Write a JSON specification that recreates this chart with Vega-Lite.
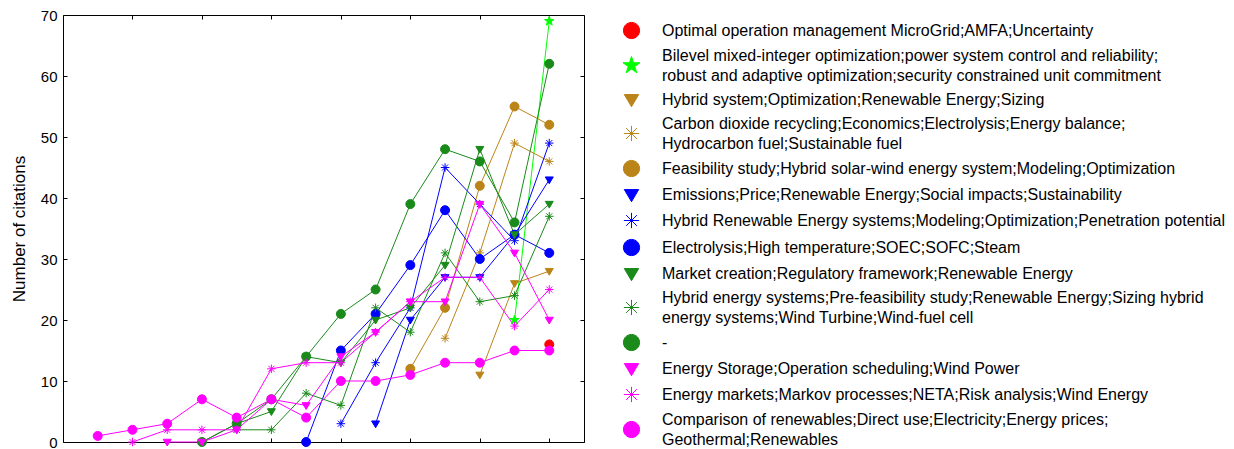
{
  "$schema": "https://vega.github.io/schema/vega-lite/v6.json",
  "autosize": {"type": "none"},
  "padding": {"left": 63, "top": 15, "right": 650, "bottom": 7},
  "width": 521,
  "height": 427,
  "background": "white",
  "config": {
    "view": {"stroke": "black", "strokeWidth": 1},
    "font": "Liberation Sans",
    "axis": {"grid": false, "domainColor": "black", "tickColor": "black", "labelColor": "black", "titleColor": "black", "labelFont": "Liberation Sans", "titleFont": "Liberation Sans"}
  },
  "data": {"values": [
    {"s": "Optimal operation management MicroGrid;AMFA;Uncertainty", "x": 14, "y": 16},
    {"s": "Bilevel mixed-integer optimization;power system control and reliability;|robust and adaptive optimization;security constrained unit commitment", "x": 13, "y": 20},
    {"s": "Bilevel mixed-integer optimization;power system control and reliability;|robust and adaptive optimization;security constrained unit commitment", "x": 14, "y": 69},
    {"s": "Hybrid system;Optimization;Renewable Energy;Sizing", "x": 12, "y": 11},
    {"s": "Hybrid system;Optimization;Renewable Energy;Sizing", "x": 13, "y": 26},
    {"s": "Hybrid system;Optimization;Renewable Energy;Sizing", "x": 14, "y": 28},
    {"s": "Carbon dioxide recycling;Economics;Electrolysis;Energy balance;|Hydrocarbon fuel;Sustainable fuel", "x": 11, "y": 17},
    {"s": "Carbon dioxide recycling;Economics;Electrolysis;Energy balance;|Hydrocarbon fuel;Sustainable fuel", "x": 12, "y": 31},
    {"s": "Carbon dioxide recycling;Economics;Electrolysis;Energy balance;|Hydrocarbon fuel;Sustainable fuel", "x": 13, "y": 49},
    {"s": "Carbon dioxide recycling;Economics;Electrolysis;Energy balance;|Hydrocarbon fuel;Sustainable fuel", "x": 14, "y": 46},
    {"s": "Feasibility study;Hybrid solar-wind energy system;Modeling;Optimization", "x": 10, "y": 12},
    {"s": "Feasibility study;Hybrid solar-wind energy system;Modeling;Optimization", "x": 11, "y": 22},
    {"s": "Feasibility study;Hybrid solar-wind energy system;Modeling;Optimization", "x": 12, "y": 42},
    {"s": "Feasibility study;Hybrid solar-wind energy system;Modeling;Optimization", "x": 13, "y": 55},
    {"s": "Feasibility study;Hybrid solar-wind energy system;Modeling;Optimization", "x": 14, "y": 52},
    {"s": "Emissions;Price;Renewable Energy;Social impacts;Sustainability", "x": 9, "y": 3},
    {"s": "Emissions;Price;Renewable Energy;Social impacts;Sustainability", "x": 10, "y": 20},
    {"s": "Emissions;Price;Renewable Energy;Social impacts;Sustainability", "x": 11, "y": 27},
    {"s": "Emissions;Price;Renewable Energy;Social impacts;Sustainability", "x": 12, "y": 27},
    {"s": "Emissions;Price;Renewable Energy;Social impacts;Sustainability", "x": 13, "y": 34},
    {"s": "Emissions;Price;Renewable Energy;Social impacts;Sustainability", "x": 14, "y": 43},
    {"s": "Hybrid Renewable Energy systems;Modeling;Optimization;Penetration potential", "x": 8, "y": 3},
    {"s": "Hybrid Renewable Energy systems;Modeling;Optimization;Penetration potential", "x": 9, "y": 13},
    {"s": "Hybrid Renewable Energy systems;Modeling;Optimization;Penetration potential", "x": 10, "y": 22},
    {"s": "Hybrid Renewable Energy systems;Modeling;Optimization;Penetration potential", "x": 11, "y": 45},
    {"s": "Hybrid Renewable Energy systems;Modeling;Optimization;Penetration potential", "x": 12, "y": 39},
    {"s": "Hybrid Renewable Energy systems;Modeling;Optimization;Penetration potential", "x": 13, "y": 33},
    {"s": "Hybrid Renewable Energy systems;Modeling;Optimization;Penetration potential", "x": 14, "y": 49},
    {"s": "Electrolysis;High temperature;SOEC;SOFC;Steam", "x": 7, "y": 0},
    {"s": "Electrolysis;High temperature;SOEC;SOFC;Steam", "x": 8, "y": 15},
    {"s": "Electrolysis;High temperature;SOEC;SOFC;Steam", "x": 9, "y": 21},
    {"s": "Electrolysis;High temperature;SOEC;SOFC;Steam", "x": 10, "y": 29},
    {"s": "Electrolysis;High temperature;SOEC;SOFC;Steam", "x": 11, "y": 38},
    {"s": "Electrolysis;High temperature;SOEC;SOFC;Steam", "x": 12, "y": 30},
    {"s": "Electrolysis;High temperature;SOEC;SOFC;Steam", "x": 13, "y": 34},
    {"s": "Electrolysis;High temperature;SOEC;SOFC;Steam", "x": 14, "y": 31},
    {"s": "Market creation;Regulatory framework;Renewable Energy", "x": 4, "y": 0},
    {"s": "Market creation;Regulatory framework;Renewable Energy", "x": 5, "y": 3},
    {"s": "Market creation;Regulatory framework;Renewable Energy", "x": 6, "y": 5},
    {"s": "Market creation;Regulatory framework;Renewable Energy", "x": 7, "y": 14},
    {"s": "Market creation;Regulatory framework;Renewable Energy", "x": 8, "y": 13},
    {"s": "Market creation;Regulatory framework;Renewable Energy", "x": 9, "y": 20},
    {"s": "Market creation;Regulatory framework;Renewable Energy", "x": 10, "y": 22},
    {"s": "Market creation;Regulatory framework;Renewable Energy", "x": 11, "y": 29},
    {"s": "Market creation;Regulatory framework;Renewable Energy", "x": 12, "y": 48},
    {"s": "Market creation;Regulatory framework;Renewable Energy", "x": 13, "y": 34},
    {"s": "Market creation;Regulatory framework;Renewable Energy", "x": 14, "y": 39},
    {"s": "Hybrid energy systems;Pre-feasibility study;Renewable Energy;Sizing hybrid|energy systems;Wind Turbine;Wind-fuel cell", "x": 5, "y": 2},
    {"s": "Hybrid energy systems;Pre-feasibility study;Renewable Energy;Sizing hybrid|energy systems;Wind Turbine;Wind-fuel cell", "x": 6, "y": 2},
    {"s": "Hybrid energy systems;Pre-feasibility study;Renewable Energy;Sizing hybrid|energy systems;Wind Turbine;Wind-fuel cell", "x": 7, "y": 8},
    {"s": "Hybrid energy systems;Pre-feasibility study;Renewable Energy;Sizing hybrid|energy systems;Wind Turbine;Wind-fuel cell", "x": 8, "y": 6},
    {"s": "Hybrid energy systems;Pre-feasibility study;Renewable Energy;Sizing hybrid|energy systems;Wind Turbine;Wind-fuel cell", "x": 9, "y": 22},
    {"s": "Hybrid energy systems;Pre-feasibility study;Renewable Energy;Sizing hybrid|energy systems;Wind Turbine;Wind-fuel cell", "x": 10, "y": 18},
    {"s": "Hybrid energy systems;Pre-feasibility study;Renewable Energy;Sizing hybrid|energy systems;Wind Turbine;Wind-fuel cell", "x": 11, "y": 31},
    {"s": "Hybrid energy systems;Pre-feasibility study;Renewable Energy;Sizing hybrid|energy systems;Wind Turbine;Wind-fuel cell", "x": 12, "y": 23},
    {"s": "Hybrid energy systems;Pre-feasibility study;Renewable Energy;Sizing hybrid|energy systems;Wind Turbine;Wind-fuel cell", "x": 13, "y": 24},
    {"s": "Hybrid energy systems;Pre-feasibility study;Renewable Energy;Sizing hybrid|energy systems;Wind Turbine;Wind-fuel cell", "x": 14, "y": 37},
    {"s": "-", "x": 4, "y": 0},
    {"s": "-", "x": 5, "y": 3},
    {"s": "-", "x": 6, "y": 7},
    {"s": "-", "x": 7, "y": 14},
    {"s": "-", "x": 8, "y": 21},
    {"s": "-", "x": 9, "y": 25},
    {"s": "-", "x": 10, "y": 39},
    {"s": "-", "x": 11, "y": 48},
    {"s": "-", "x": 12, "y": 46},
    {"s": "-", "x": 13, "y": 36},
    {"s": "-", "x": 14, "y": 62},
    {"s": "Energy Storage;Operation scheduling;Wind Power", "x": 3, "y": 0},
    {"s": "Energy Storage;Operation scheduling;Wind Power", "x": 4, "y": 0},
    {"s": "Energy Storage;Operation scheduling;Wind Power", "x": 5, "y": 2},
    {"s": "Energy Storage;Operation scheduling;Wind Power", "x": 6, "y": 7},
    {"s": "Energy Storage;Operation scheduling;Wind Power", "x": 7, "y": 6},
    {"s": "Energy Storage;Operation scheduling;Wind Power", "x": 8, "y": 14},
    {"s": "Energy Storage;Operation scheduling;Wind Power", "x": 9, "y": 18},
    {"s": "Energy Storage;Operation scheduling;Wind Power", "x": 10, "y": 23},
    {"s": "Energy Storage;Operation scheduling;Wind Power", "x": 11, "y": 23},
    {"s": "Energy Storage;Operation scheduling;Wind Power", "x": 12, "y": 39},
    {"s": "Energy Storage;Operation scheduling;Wind Power", "x": 13, "y": 31},
    {"s": "Energy Storage;Operation scheduling;Wind Power", "x": 14, "y": 20},
    {"s": "Energy markets;Markov processes;NETA;Risk analysis;Wind Energy", "x": 2, "y": 0},
    {"s": "Energy markets;Markov processes;NETA;Risk analysis;Wind Energy", "x": 3, "y": 2},
    {"s": "Energy markets;Markov processes;NETA;Risk analysis;Wind Energy", "x": 4, "y": 2},
    {"s": "Energy markets;Markov processes;NETA;Risk analysis;Wind Energy", "x": 5, "y": 2},
    {"s": "Energy markets;Markov processes;NETA;Risk analysis;Wind Energy", "x": 6, "y": 12},
    {"s": "Energy markets;Markov processes;NETA;Risk analysis;Wind Energy", "x": 7, "y": 13},
    {"s": "Energy markets;Markov processes;NETA;Risk analysis;Wind Energy", "x": 8, "y": 13},
    {"s": "Energy markets;Markov processes;NETA;Risk analysis;Wind Energy", "x": 9, "y": 18},
    {"s": "Energy markets;Markov processes;NETA;Risk analysis;Wind Energy", "x": 10, "y": 23},
    {"s": "Energy markets;Markov processes;NETA;Risk analysis;Wind Energy", "x": 11, "y": 27},
    {"s": "Energy markets;Markov processes;NETA;Risk analysis;Wind Energy", "x": 12, "y": 27},
    {"s": "Energy markets;Markov processes;NETA;Risk analysis;Wind Energy", "x": 13, "y": 19},
    {"s": "Energy markets;Markov processes;NETA;Risk analysis;Wind Energy", "x": 14, "y": 25},
    {"s": "Comparison of renewables;Direct use;Electricity;Energy prices;|Geothermal;Renewables", "x": 1, "y": 1},
    {"s": "Comparison of renewables;Direct use;Electricity;Energy prices;|Geothermal;Renewables", "x": 2, "y": 2},
    {"s": "Comparison of renewables;Direct use;Electricity;Energy prices;|Geothermal;Renewables", "x": 3, "y": 3},
    {"s": "Comparison of renewables;Direct use;Electricity;Energy prices;|Geothermal;Renewables", "x": 4, "y": 7},
    {"s": "Comparison of renewables;Direct use;Electricity;Energy prices;|Geothermal;Renewables", "x": 5, "y": 4},
    {"s": "Comparison of renewables;Direct use;Electricity;Energy prices;|Geothermal;Renewables", "x": 6, "y": 7},
    {"s": "Comparison of renewables;Direct use;Electricity;Energy prices;|Geothermal;Renewables", "x": 7, "y": 4},
    {"s": "Comparison of renewables;Direct use;Electricity;Energy prices;|Geothermal;Renewables", "x": 8, "y": 10},
    {"s": "Comparison of renewables;Direct use;Electricity;Energy prices;|Geothermal;Renewables", "x": 9, "y": 10},
    {"s": "Comparison of renewables;Direct use;Electricity;Energy prices;|Geothermal;Renewables", "x": 10, "y": 11},
    {"s": "Comparison of renewables;Direct use;Electricity;Energy prices;|Geothermal;Renewables", "x": 11, "y": 13},
    {"s": "Comparison of renewables;Direct use;Electricity;Energy prices;|Geothermal;Renewables", "x": 12, "y": 13},
    {"s": "Comparison of renewables;Direct use;Electricity;Energy prices;|Geothermal;Renewables", "x": 13, "y": 15},
    {"s": "Comparison of renewables;Direct use;Electricity;Energy prices;|Geothermal;Renewables", "x": 14, "y": 15}
  ]},
  "transform": [{"calculate": "datum.s", "as": "m"}],
  "layer": [
    {
      "mark": {"type": "line", "strokeWidth": 1},
      "encoding": {
        "x": {"field": "x", "type": "quantitative", "scale": {"domain": [0, 15], "nice": false, "zero": false},
              "axis": {"orient": "bottom", "values": [2, 4, 6, 8, 10, 12, 14], "labels": false, "ticks": false, "domain": false, "title": null}},
        "y": {"field": "y", "type": "quantitative", "scale": {"domain": [0, 70], "nice": false},
              "axis": {"orient": "left", "values": [0, 10, 20, 30, 40, 50, 60, 70], "ticks": false, "domain": false, "labelPadding": 6, "labelFontSize": 15, "title": "Number of citations", "titleFontSize": 17, "titleFontWeight": "normal", "titlePadding": 12}},
        "stroke": {"field": "s", "type": "nominal",
                   "scale": {"domain": [
                   "Optimal operation management MicroGrid;AMFA;Uncertainty",
                   "Bilevel mixed-integer optimization;power system control and reliability;|robust and adaptive optimization;security constrained unit commitment",
                   "Hybrid system;Optimization;Renewable Energy;Sizing",
                   "Carbon dioxide recycling;Economics;Electrolysis;Energy balance;|Hydrocarbon fuel;Sustainable fuel",
                   "Feasibility study;Hybrid solar-wind energy system;Modeling;Optimization",
                   "Emissions;Price;Renewable Energy;Social impacts;Sustainability",
                   "Hybrid Renewable Energy systems;Modeling;Optimization;Penetration potential",
                   "Electrolysis;High temperature;SOEC;SOFC;Steam",
                   "Market creation;Regulatory framework;Renewable Energy",
                   "Hybrid energy systems;Pre-feasibility study;Renewable Energy;Sizing hybrid|energy systems;Wind Turbine;Wind-fuel cell",
                   "-",
                   "Energy Storage;Operation scheduling;Wind Power",
                   "Energy markets;Markov processes;NETA;Risk analysis;Wind Energy",
                   "Comparison of renewables;Direct use;Electricity;Energy prices;|Geothermal;Renewables"],
                   "range": ["#FF0000", "#00FF00", "#BB8418", "#BB8418", "#BB8418", "#0000FF", "#0000FF", "#0000FF", "#1A8A1A", "#1A8A1A", "#1A8A1A", "#FF00FF", "#FF00FF", "#FF00FF"]},
                   "legend": {
                     "orient": "none", "legendX": 559, "legendY": 6, "title": null, "padding": 0,
                     "symbolSize": 324, "labelOffset": 21, "labelFontSize": 16, "labelFont": "Liberation Sans", "labelColor": "black", "labelLimit": 0, "rowPadding": 6,
                     "labelExpr": "split(datum.label, '|')",
                     "encode": {
                       "labels": {"update": {"lineHeight": {"value": 20}, "dy": {"signal": "indexof(datum.label, '|') >= 0 ? -10 : 0"}}},
                       "symbols": {"update": {
                         "shape": {"signal": "['M-3,0L3,0M0.5,0A0.5,0.5 0 1,1 -0.5,0A0.5,0.5 0 1,1 0.5,0Z','M-3,0L3,0M0,-0.6L0.13,-0.18L0.57,-0.19L0.22,0.07L0.35,0.49L0,0.23L-0.35,0.49L-0.22,0.07L-0.57,-0.19L-0.13,-0.18Z','M-3,0L3,0M-0.45,-0.3L0.45,-0.3L0,0.45Z','M-3,0L3,0M-0.45,0L0.45,0M0,-0.45L0,0.45M-0.32,-0.32L0.32,0.32M-0.32,0.32L0.32,-0.32','M-3,0L3,0M0.5,0A0.5,0.5 0 1,1 -0.5,0A0.5,0.5 0 1,1 0.5,0Z','M-3,0L3,0M-0.45,-0.3L0.45,-0.3L0,0.45Z','M-3,0L3,0M-0.45,0L0.45,0M0,-0.45L0,0.45M-0.32,-0.32L0.32,0.32M-0.32,0.32L0.32,-0.32','M-3,0L3,0M0.5,0A0.5,0.5 0 1,1 -0.5,0A0.5,0.5 0 1,1 0.5,0Z','M-3,0L3,0M-0.45,-0.3L0.45,-0.3L0,0.45Z','M-3,0L3,0M-0.45,0L0.45,0M0,-0.45L0,0.45M-0.32,-0.32L0.32,0.32M-0.32,0.32L0.32,-0.32','M-3,0L3,0M0.5,0A0.5,0.5 0 1,1 -0.5,0A0.5,0.5 0 1,1 0.5,0Z','M-3,0L3,0M-0.45,-0.3L0.45,-0.3L0,0.45Z','M-3,0L3,0M-0.45,0L0.45,0M0,-0.45L0,0.45M-0.32,-0.32L0.32,0.32M-0.32,0.32L0.32,-0.32','M-3,0L3,0M0.5,0A0.5,0.5 0 1,1 -0.5,0A0.5,0.5 0 1,1 0.5,0Z'][datum.index]"},
                         "fill": {"signal": "['#FF0000','#00FF00','#BB8418','#BB8418','#BB8418','#0000FF','#0000FF','#0000FF','#1A8A1A','#1A8A1A','#1A8A1A','#FF00FF','#FF00FF','#FF00FF'][datum.index]"},
                         "stroke": {"signal": "['#FF0000','#00FF00','#BB8418','#BB8418','#BB8418','#0000FF','#0000FF','#0000FF','#1A8A1A','#1A8A1A','#1A8A1A','#FF00FF','#FF00FF','#FF00FF'][datum.index]"},
                         "strokeWidth": {"value": 1},
                         "opacity": {"value": 1}
                       }}
                     }
                   }},
        "detail": {"field": "s"}
      }
    },
    {
      "mark": {"type": "point", "filled": true, "strokeWidth": 1, "opacity": 1, "size": 100},
      "encoding": {
        "x": {"field": "x", "type": "quantitative",
              "axis": {"orient": "top", "offset": -427, "values": [2, 4, 6, 8, 10, 12, 14], "labels": false, "tickSize": 4, "domain": false, "title": null}},
        "y": {"field": "y", "type": "quantitative",
              "axis": {"orient": "right", "offset": -521, "values": [0, 10, 20, 30, 40, 50, 60, 70], "labels": false, "tickSize": 4, "domain": false, "title": null}},
        "fill": {"field": "m", "type": "nominal", "legend": null,
                 "scale": {"domain": [
                   "Optimal operation management MicroGrid;AMFA;Uncertainty",
                   "Bilevel mixed-integer optimization;power system control and reliability;|robust and adaptive optimization;security constrained unit commitment",
                   "Hybrid system;Optimization;Renewable Energy;Sizing",
                   "Carbon dioxide recycling;Economics;Electrolysis;Energy balance;|Hydrocarbon fuel;Sustainable fuel",
                   "Feasibility study;Hybrid solar-wind energy system;Modeling;Optimization",
                   "Emissions;Price;Renewable Energy;Social impacts;Sustainability",
                   "Hybrid Renewable Energy systems;Modeling;Optimization;Penetration potential",
                   "Electrolysis;High temperature;SOEC;SOFC;Steam",
                   "Market creation;Regulatory framework;Renewable Energy",
                   "Hybrid energy systems;Pre-feasibility study;Renewable Energy;Sizing hybrid|energy systems;Wind Turbine;Wind-fuel cell",
                   "-",
                   "Energy Storage;Operation scheduling;Wind Power",
                   "Energy markets;Markov processes;NETA;Risk analysis;Wind Energy",
                   "Comparison of renewables;Direct use;Electricity;Energy prices;|Geothermal;Renewables"],
                   "range": ["#FF0000", "#00FF00", "#BB8418", "#BB8418", "#BB8418", "#0000FF", "#0000FF", "#0000FF", "#1A8A1A", "#1A8A1A", "#1A8A1A", "#FF00FF", "#FF00FF", "#FF00FF"]}},
        "stroke": {"field": "s", "type": "nominal"},
        "shape": {"field": "m", "type": "nominal", "legend": null,
                  "scale": {"domain": [
                   "Optimal operation management MicroGrid;AMFA;Uncertainty",
                   "Bilevel mixed-integer optimization;power system control and reliability;|robust and adaptive optimization;security constrained unit commitment",
                   "Hybrid system;Optimization;Renewable Energy;Sizing",
                   "Carbon dioxide recycling;Economics;Electrolysis;Energy balance;|Hydrocarbon fuel;Sustainable fuel",
                   "Feasibility study;Hybrid solar-wind energy system;Modeling;Optimization",
                   "Emissions;Price;Renewable Energy;Social impacts;Sustainability",
                   "Hybrid Renewable Energy systems;Modeling;Optimization;Penetration potential",
                   "Electrolysis;High temperature;SOEC;SOFC;Steam",
                   "Market creation;Regulatory framework;Renewable Energy",
                   "Hybrid energy systems;Pre-feasibility study;Renewable Energy;Sizing hybrid|energy systems;Wind Turbine;Wind-fuel cell",
                   "-",
                   "Energy Storage;Operation scheduling;Wind Power",
                   "Energy markets;Markov processes;NETA;Risk analysis;Wind Energy",
                   "Comparison of renewables;Direct use;Electricity;Energy prices;|Geothermal;Renewables"],
                   "range": ["M0.9,0A0.9,0.9 0 1,1 -0.9,0A0.9,0.9 0 1,1 0.9,0Z",
                             "M0,-1L0.223,-0.307L0.951,-0.309L0.361,0.117L0.588,0.809L0,0.38L-0.588,0.809L-0.361,0.117L-0.951,-0.309L-0.223,-0.307Z",
                             "M-0.8,-0.55L0.8,-0.55L0,0.8Z",
                             "M-0.85,0L0.85,0M0,-0.85L0,0.85M-0.6,-0.6L0.6,0.6M-0.6,0.6L0.6,-0.6",
                             "M0.9,0A0.9,0.9 0 1,1 -0.9,0A0.9,0.9 0 1,1 0.9,0Z",
                             "M-0.8,-0.55L0.8,-0.55L0,0.8Z",
                             "M-0.85,0L0.85,0M0,-0.85L0,0.85M-0.6,-0.6L0.6,0.6M-0.6,0.6L0.6,-0.6",
                             "M0.9,0A0.9,0.9 0 1,1 -0.9,0A0.9,0.9 0 1,1 0.9,0Z",
                             "M-0.8,-0.55L0.8,-0.55L0,0.8Z",
                             "M-0.85,0L0.85,0M0,-0.85L0,0.85M-0.6,-0.6L0.6,0.6M-0.6,0.6L0.6,-0.6",
                             "M0.9,0A0.9,0.9 0 1,1 -0.9,0A0.9,0.9 0 1,1 0.9,0Z",
                             "M-0.8,-0.55L0.8,-0.55L0,0.8Z",
                             "M-0.85,0L0.85,0M0,-0.85L0,0.85M-0.6,-0.6L0.6,0.6M-0.6,0.6L0.6,-0.6",
                             "M0.9,0A0.9,0.9 0 1,1 -0.9,0A0.9,0.9 0 1,1 0.9,0Z"]}}
      }
    },
    {
      "mark": {"type": "point", "opacity": 0},
      "encoding": {
        "x": {"field": "x", "type": "quantitative",
              "axis": {"orient": "bottom", "offset": -427, "values": [2, 4, 6, 8, 10, 12, 14], "labels": false, "tickSize": 4, "domain": false, "title": null}},
        "y": {"field": "y", "type": "quantitative",
              "axis": {"orient": "left", "offset": -521, "values": [0, 10, 20, 30, 40, 50, 60, 70], "labels": false, "tickSize": 4, "domain": false, "title": null}}
      }
    }
  ],
  "resolve": {"axis": {"x": "independent", "y": "independent"}}
}
